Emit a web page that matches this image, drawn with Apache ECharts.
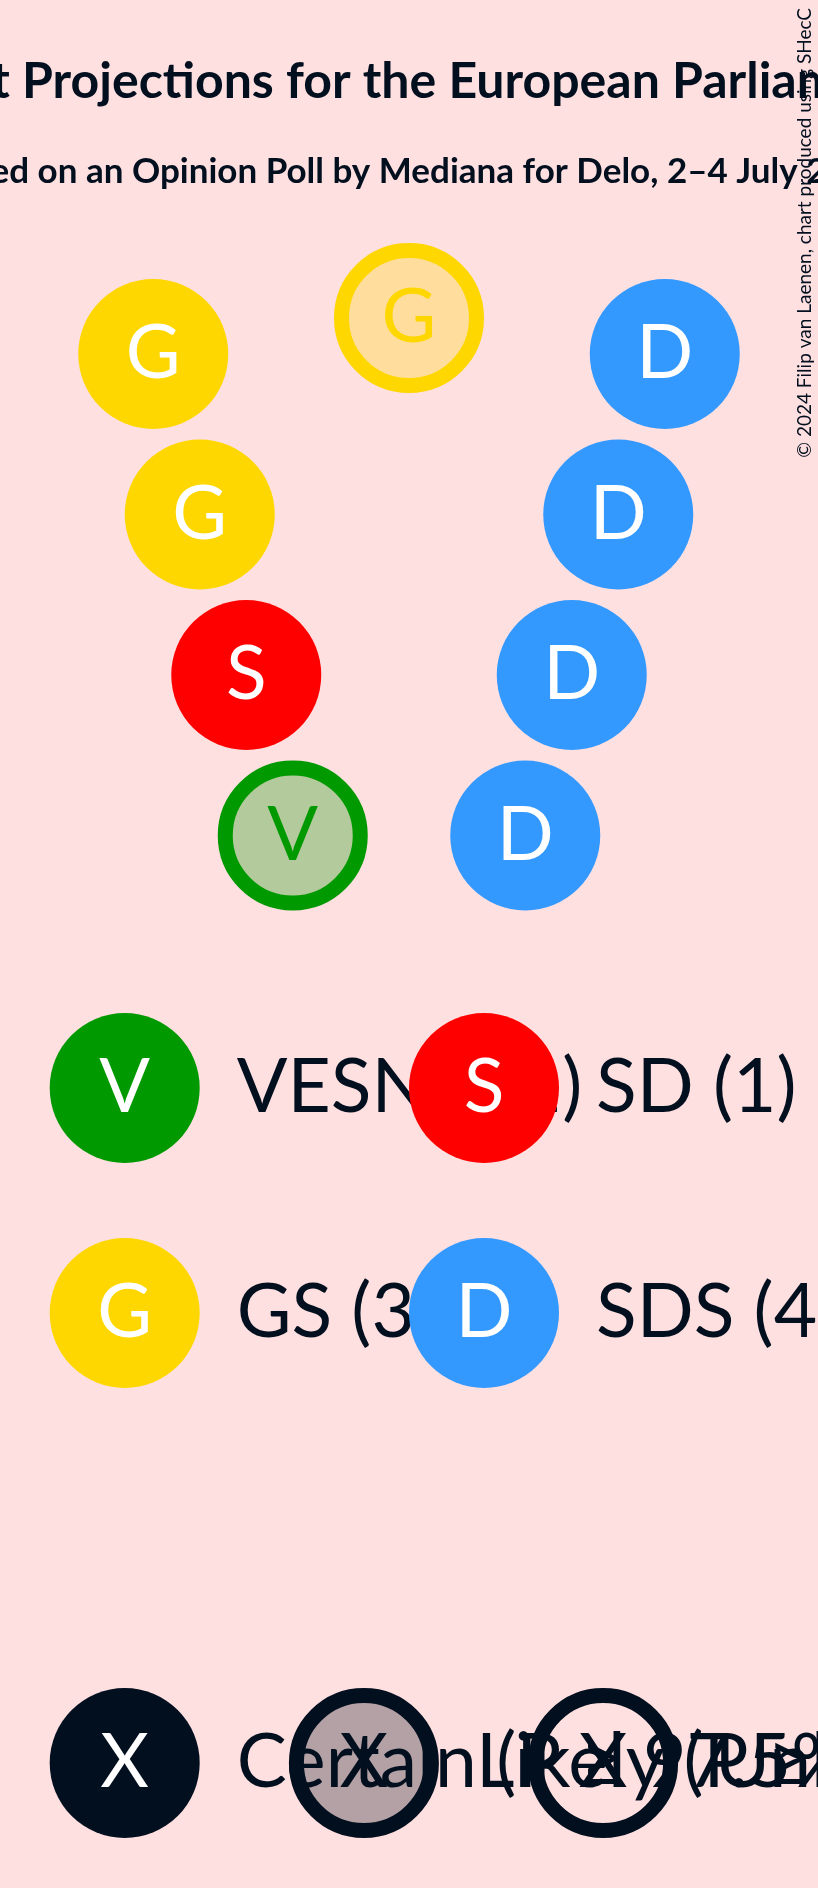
<!DOCTYPE html>
<html>
<head>
<meta charset="utf-8">
<script src="https://cdn.jsdelivr.net/npm/echarts@6/dist/echarts.min.js"></script>
<style>
  html, body { margin: 0; padding: 0; background: #FFE0E0; }
  #chart { width: 818px; height: 1888px; }
</style>
</head>
<body>
<div id="chart"></div>
<script>
(function () {
    // parties, in legend order
    const partyNames = ['VESNA', 'SD', 'GS', 'SDS'];
    const partyLetters = ['V', 'S', 'G', 'D'];
    const partyColors = ['#009900', '#FF0000', '#FFD700', '#3399FF'];

    // seats of the V, each arm read from top to bottom
    const leftArmParty = ['GS', 'GS', 'SD', 'VESNA'];
    const leftArmLikely = [false, false, false, true];
    const rightArmParty = ['SDS', 'SDS', 'SDS', 'SDS'];
    const rightArmLikely = [false, false, false, false];
    const apexParty = ['GS'];
    const apexLikely = [true];

    // bottom legend
    const certaintyLabels = ['Certain (P ≥ 97.5%)', 'Likely (P ≥ 50%)', 'Unlikely (P ≥ 2.5%)'];
    const certaintyLetter = 'X';

    const titleText = 'Seat Projections for the European Parliament';
    const subtitleText = 'Based on an Opinion Poll by Mediana for Delo, 2–4 July 2024';
    const copyrightText = '© 2024 Filip van Laenen, chart produced using SHecC';

    const W = 818, H = 1888;
    const BG = '#FFE0E0';
    const INK = '#020F1F';
    const FONT = 'Lato';

    // layout of the seat grid
    const CX = 409, COL = 46.5, ROW_TOP = 354, ROW = 160.5;
    const ARM_OFFSET = 5.5, APEX_RISE = 0.224;

    function fade(hex, a) {
        const n = parseInt(hex.slice(1), 16);
        return 'rgba(' + (n >> 16) + ',' + ((n >> 8) & 255) + ',' + (n & 255) + ',' + a + ')';
    }

    function seatItem(party, likely, x, y) {
        const i = partyNames.indexOf(party);
        const col = partyColors[i];
        return {
            value: [x, y],
            symbolSize: likely ? 135 : 150,
            itemStyle: likely
                ? {color: fade(col, 0.3), borderColor: col, borderWidth: 15, opacity: 1}
                : {color: col, borderWidth: 0, opacity: 1},
            label: {
                show: true,
                position: 'inside',
                formatter: partyLetters[i],
                fontFamily: FONT,
                fontSize: 75,
                color: likely ? col : '#FFFFFF'
            }
        };
    }

    const seats = [];
    leftArmParty.forEach((p, r) => seats.push(seatItem(p, leftArmLikely[r], -(ARM_OFFSET - r), r)));
    apexParty.forEach((p, r) => seats.push(seatItem(p, apexLikely[r], 0, -APEX_RISE)));
    rightArmParty.forEach((p, r) => seats.push(seatItem(p, rightArmLikely[r], ARM_OFFSET - r, r)));

    // seat counts per party
    const allParty = leftArmParty.concat(apexParty, rightArmParty);
    const counts = partyNames.map(p => allParty.filter(q => q === p).length);

    const graphics = [];
    function addCircle(cx, cy, fill, stroke) {
        graphics.push({
            type: 'circle',
            shape: {cx: cx, cy: cy, r: stroke ? 67.5 : 75},
            style: {fill: fill, stroke: stroke || null, lineWidth: stroke ? 15 : 0}
        });
    }
    function addText(x, y, text, opts) {
        graphics.push({
            type: 'text',
            x: x, y: y,
            rotation: opts.rotation || 0,
            style: {
                text: text,
                fill: opts.fill || INK,
                fontFamily: FONT,
                fontSize: opts.size,
                fontWeight: opts.weight || 'normal',
                align: opts.align || 'left',
                verticalAlign: 'middle'
            }
        });
    }

    // titles
    addText(412, 82, titleText, {size: 50, weight: 'bold', align: 'center'});
    addText(411, 172, subtitleText, {size: 35, weight: 'bold', align: 'center'});

    // party legend, two per row
    const LEG_X0 = 124.7, LEG_DX = 359.3, LEG_Y0 = 1088, LEG_DY = 225, TXT_DX = 112;
    partyNames.forEach((p, i) => {
        const cx = LEG_X0 + (i % 2) * LEG_DX;
        const cy = LEG_Y0 + Math.floor(i / 2) * LEG_DY;
        addCircle(cx, cy, partyColors[i]);
        addText(cx, cy, partyLetters[i], {size: 75, fill: '#FFFFFF', align: 'center'});
        addText(cx + TXT_DX, cy, p + ' (' + counts[i] + ')', {size: 75});
    });

    // certainty legend
    const CER_DX = 239.2, CER_Y = 1763;
    certaintyLabels.forEach((t, i) => {
        const cx = LEG_X0 + i * CER_DX;
        if (i === 0) {
            addCircle(cx, CER_Y, INK);
        } else {
            addCircle(cx, CER_Y, i === 1 ? fade(INK, 0.3) : 'rgba(0,0,0,0)', INK);
        }
        addText(cx, CER_Y, certaintyLetter, {size: 75, fill: i === 0 ? '#FFFFFF' : INK, align: 'center'});
        addText(cx + TXT_DX, CER_Y, t, {size: 75});
    });

    // copyright, running up the right edge
    addText(805, 8, copyrightText, {size: 19, align: 'right', rotation: Math.PI / 2});

    const chart = echarts.init(document.getElementById('chart'), null, {renderer: 'canvas'});
    chart.setOption({
        backgroundColor: BG,
        animation: false,
        grid: {left: 0, right: 0, top: 0, bottom: 0},
        xAxis: {type: 'value', show: false, min: -CX / COL, max: (W - CX) / COL},
        yAxis: {type: 'value', show: false, inverse: true, min: -ROW_TOP / ROW, max: (H - ROW_TOP) / ROW},
        series: [{
            type: 'scatter',
            symbol: 'circle',
            itemStyle: {opacity: 1},
            data: seats
        }],
        graphic: graphics
    });
})();
</script>
</body>
</html>
